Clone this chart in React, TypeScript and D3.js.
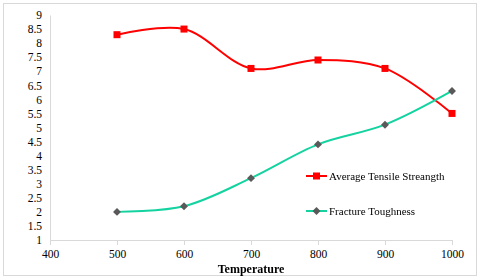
import React, { useEffect, useRef } from 'react';
import * as d3 from 'd3';

const temperatures = [500, 600, 700, 800, 900, 1000];
const tensileStrength = [8.3, 8.5, 7.1, 7.4, 7.1, 5.5];
const fractureToughness = [2.0, 2.2, 3.2, 4.4, 5.1, 6.3];
const xTicks = [400, 500, 600, 700, 800, 900, 1000];
const yTicks = [1, 1.5, 2, 2.5, 3, 3.5, 4, 4.5, 5, 5.5, 6, 6.5, 7, 7.5, 8, 8.5, 9];
const seriesNames = ['Average Tensile Streangth', 'Fracture Toughness'];

function App() {
    const chartRef = useRef<SVGSVGElement>(null);

    useEffect(() => {
        const svg = d3.select(chartRef.current);
        svg.selectAll('*').remove();

        const width = 480, height = 280;
        const margin = { top: 15, right: 28, bottom: 40, left: 50 };
        const font = "'Liberation Serif', 'Times New Roman', serif";

        svg.append('rect')
            .attr('x', 3.5).attr('y', 3.5)
            .attr('width', 473).attr('height', 272)
            .attr('fill', '#fff')
            .attr('stroke', '#d9d9d9');

        const x = d3.scaleLinear()
            .domain([400, 1000])
            .range([margin.left, width - margin.right]);

        const y = d3.scaleLinear()
            .domain([1, 9])
            .range([height - margin.bottom, margin.top]);

        // y axis, no ticks
        const yAxis = svg.append('g')
            .attr('transform', 'translate(' + margin.left + ',0)')
            .call(d3.axisLeft(y).tickValues(yTicks).tickSize(0).tickPadding(8).tickFormat(d3.format('')));
        yAxis.attr('font-family', null);
        yAxis.select('.domain').attr('stroke', '#d9d9d9');
        yAxis.selectAll('text')
            .style('font-family', font).style('font-size', '11.5px').attr('fill', '#000');

        const xAxis = svg.append('g')
            .attr('transform', 'translate(0,' + (height - margin.bottom) + ')')
            .call(d3.axisBottom(x).tickValues(xTicks).tickSize(5).tickSizeOuter(0).tickPadding(5).tickFormat(d3.format('')));
        xAxis.attr('font-family', null);
        xAxis.select('.domain').attr('stroke', '#d9d9d9');
        xAxis.selectAll('line').attr('stroke', '#d9d9d9');
        xAxis.selectAll('text')
            .style('font-family', font).style('font-size', '11.5px').attr('fill', '#000');

        svg.append('text')
            .attr('x', (margin.left + width - margin.right) / 2)
            .attr('y', 273)
            .attr('text-anchor', 'middle')
            .style('font-family', font)
            .style('font-size', '12px')
            .style('font-weight', 'bold')
            .text('Temperature');

        const line = d3.line<number>()
            .curve(d3.curveCatmullRom.alpha(0.5))
            .x((_, i) => x(temperatures[i]))
            .y(d => y(d));

        const series = [
            { name: seriesNames[0], values: tensileStrength, color: '#ff0000', marker: 'square', markerColor: '#ff0000' },
            { name: seriesNames[1], values: fractureToughness, color: '#14d3a0', marker: 'diamond', markerColor: '#595959' }
        ];

        const drawMarker = (g: any, type: string, color: string, cx: number, cy: number) => {
            if (type === 'square') {
                g.append('rect')
                    .attr('x', cx - 3.5).attr('y', cy - 3.5)
                    .attr('width', 7).attr('height', 7)
                    .attr('fill', color);
            } else {
                g.append('path')
                    .attr('d', d3.symbol().type(d3.symbolDiamond2).size(40)())
                    .attr('transform', 'translate(' + cx + ',' + cy + ')')
                    .attr('fill', color);
            }
        };

        series.forEach(s => {
            svg.append('path')
                .attr('d', line(s.values))
                .attr('fill', 'none')
                .attr('stroke', s.color)
                .attr('stroke-width', 2);
            const g = svg.append('g');
            s.values.forEach((v, i) => drawMarker(g, s.marker, s.markerColor, x(temperatures[i]), y(v)));
        });

        // legend
        const legend = svg.append('g');
        series.forEach((s, i) => {
            const ly = 176 + i * 35;
            legend.append('line')
                .attr('x1', 306).attr('x2', 327)
                .attr('y1', ly).attr('y2', ly)
                .attr('stroke', s.color).attr('stroke-width', 2);
            drawMarker(legend, s.marker, s.markerColor, 316.5, ly);
            legend.append('text')
                .attr('x', 329).attr('y', ly + 4)
                .style('font-family', font)
                .style('font-size', '11px')
                .text(s.name);
        });
    }, []);

    return (
        <div style={{ position: 'fixed', top: 0, left: 0 }}>
            <svg ref={chartRef} width={480} height={280} style={{ display: 'block' }}></svg>
        </div>
    );
}

export default App;
